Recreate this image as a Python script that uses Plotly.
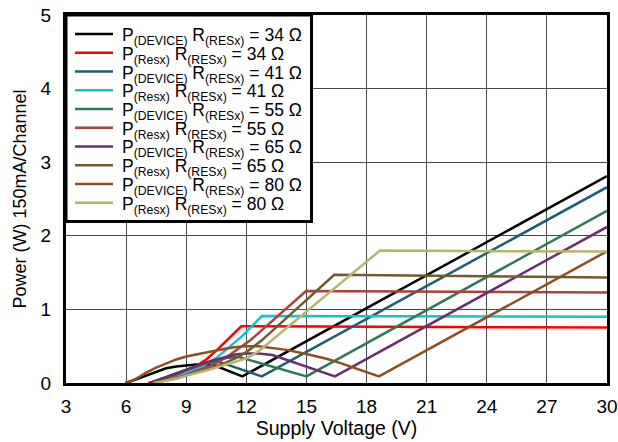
import plotly.graph_objects as go

# ---------------- data ----------------
labels = [
    "P<sub>(DEVICE)</sub> R<sub>(RESx)</sub> = 34 Ω",
    "P<sub>(Resx)</sub> R<sub>(RESx)</sub> = 34 Ω",
    "P<sub>(DEVICE)</sub> R<sub>(RESx)</sub> = 41 Ω",
    "P<sub>(Resx)</sub> R<sub>(RESx)</sub> = 41 Ω",
    "P<sub>(DEVICE)</sub> R<sub>(RESx)</sub> = 55 Ω",
    "P<sub>(Resx)</sub> R<sub>(RESx)</sub> = 55 Ω",
    "P<sub>(DEVICE)</sub> R<sub>(RESx)</sub> = 65 Ω",
    "P<sub>(Resx)</sub> R<sub>(RESx)</sub> = 65 Ω",
    "P<sub>(DEVICE)</sub> R<sub>(RESx)</sub> = 80 Ω",
    "P<sub>(Resx)</sub> R<sub>(RESx)</sub> = 80 Ω",
]

dev34_v = [6.0, 6.5, 7.0, 7.5, 8.0, 8.5, 9.0, 9.5, 10.0, 10.4, 11.8, 30]
dev34_p = [0, 0.05, 0.11, 0.16, 0.20, 0.225, 0.24, 0.25, 0.25, 0.24, 0.09, 2.81]

res34_v = [7.1, 7.5, 8.0, 8.5, 9.0, 9.5, 10.0, 10.5, 11.75, 30]
res34_p = [0, 0.02, 0.05, 0.10, 0.16, 0.23, 0.32, 0.44, 0.77, 0.755]

dev41_v = [7.2, 7.6, 8.0, 8.5, 9.0, 9.5, 10.0, 10.6, 12.77, 30]
dev41_p = [0, 0.04, 0.08, 0.14, 0.19, 0.23, 0.27, 0.29, 0.09, 2.66]

res41_v = [7.2, 7.6, 8.0, 8.5, 9.0, 9.5, 10.0, 10.5, 10.85, 11.8, 12.77, 30]
res41_p = [0, 0.02, 0.045, 0.08, 0.13, 0.19, 0.26, 0.34, 0.42, 0.64, 0.91, 0.90]

dev55_v = [7.2, 7.6, 8.0, 8.5, 9.0, 9.5, 10.0, 10.5, 11.0, 11.6, 15.0, 30]
dev55_p = [0, 0.04, 0.08, 0.13, 0.18, 0.23, 0.27, 0.31, 0.34, 0.355, 0.09, 2.34]

res55_v = [7.2, 7.6, 8.0, 8.5, 9.0, 9.5, 10.0, 10.5, 11.0, 11.5, 12.2, 14.98, 30]
res55_p = [0, 0.02, 0.04, 0.07, 0.11, 0.16, 0.21, 0.27, 0.35, 0.45, 0.58, 1.25, 1.23]

dev65_v = [7.2, 7.6, 8.0, 8.5, 9.0, 9.5, 10.0, 10.5, 11.0, 11.5, 12.0, 12.6, 13.3, 16.42, 30]
dev65_p = [0, 0.04, 0.08, 0.13, 0.19, 0.24, 0.28, 0.32, 0.36, 0.39, 0.40, 0.40, 0.38, 0.09, 2.12]

res65_v = [7.3, 7.7, 8.0, 8.5, 9.0, 9.5, 10.0, 10.5, 11.0, 11.5, 12.0, 12.77, 16.39, 30]
res65_p = [0, 0.02, 0.035, 0.06, 0.10, 0.14, 0.18, 0.23, 0.28, 0.34, 0.42, 0.58, 1.47, 1.435]

dev80_v = [5.95, 6.3, 6.7, 7.0, 7.5, 8.0, 8.5, 9.0, 9.5, 10.0, 10.5, 11.0, 11.5, 12.0,
           12.6, 13.3, 14.0, 15.0, 16.0, 16.7, 18.62, 30]
dev80_p = [0, 0.03, 0.09, 0.14, 0.21, 0.27, 0.32, 0.36, 0.39, 0.42, 0.45, 0.47, 0.49, 0.50,
           0.50, 0.475, 0.45, 0.395, 0.33, 0.27, 0.09, 1.79]

res80_v = [7.4, 8.0, 8.5, 9.0, 9.5, 10.0, 10.5, 11.0, 11.5, 12.0, 12.6, 13.0, 18.67, 30]
res80_p = [0, 0.03, 0.06, 0.10, 0.13, 0.17, 0.21, 0.25, 0.29, 0.335, 0.43, 0.52, 1.80, 1.785]

series_v = [dev34_v, res34_v, dev41_v, res41_v, dev55_v, res55_v, dev65_v, res65_v, dev80_v, res80_v]
series_p = [dev34_p, res34_p, dev41_p, res41_p, dev55_p, res55_p, dev65_p, res65_p, dev80_p, res80_p]
colors = ["#000000", "#FF0000", "#1D5E73", "#16C1D1", "#2E7A55",
          "#A8423F", "#6B2D6B", "#735A2C", "#8C4F20", "#B8B46B"]

x_ticks = [3, 6, 9, 12, 15, 18, 21, 24, 27, 30]
y_ticks = [0, 1, 2, 3, 4, 5]

FONT = "Arial, 'Liberation Sans', sans-serif"

fig = go.Figure()
for v, p, c, name in zip(series_v, series_p, colors, labels):
    fig.add_trace(go.Scatter(x=v, y=p, mode="lines", name=name,
                             line=dict(color=c, width=2.5), showlegend=False))

# plot area pixel geometry (for placing the hand-made legend)
L, R, T, B = 66, 607, 15, 383
W, H = R - L, B - T

def px(x):
    return (x - L) / W

def py(y):
    return (B - y) / H

shapes = [dict(type="rect", xref="paper", yref="paper",
               x0=px(L), x1=px(311.5), y0=py(221.5), y1=py(T),
               fillcolor="white", line=dict(color="black", width=3), layer="above")]
annotations = []
row0, step = 34.0, 18.75
for i, (c, name) in enumerate(zip(colors, labels)):
    yy = row0 + i * step
    shapes.append(dict(type="line", xref="paper", yref="paper",
                       x0=px(75), x1=px(113), y0=py(yy), y1=py(yy),
                       line=dict(color=c, width=2.5), layer="above"))
    annotations.append(dict(xref="paper", yref="paper", x=px(120), y=py(yy + 2.5),
                            xanchor="left", yanchor="middle", showarrow=False,
                            text=name, font=dict(family=FONT, size=17.5, color="black")))

fig.update_layout(
    width=618, height=442,
    margin=dict(l=L, r=618 - R, t=T, b=442 - B, pad=0, autoexpand=False),
    paper_bgcolor="white", plot_bgcolor="white",
    font=dict(family=FONT, size=19, color="black"),
    shapes=shapes, annotations=annotations,
    showlegend=False,
)
fig.update_xaxes(range=[3, 30], tickvals=x_ticks, ticktext=[str(t) for t in x_ticks],
                 tickfont=dict(size=19),
                 showgrid=True, gridcolor="#4a4a4a", gridwidth=1.2,
                 showline=True, linecolor="black", linewidth=3, mirror=True,
                 ticks="outside", ticklen=4, tickcolor="rgba(0,0,0,0)",
                 zeroline=False, automargin=False,
                 title=dict(text="Supply Voltage (V)", font=dict(size=19.5), standoff=4))
fig.update_yaxes(range=[0, 5], tickvals=y_ticks, ticktext=[str(t) for t in y_ticks],
                 tickfont=dict(size=19),
                 showgrid=True, gridcolor="#4a4a4a", gridwidth=1.2,
                 showline=True, linecolor="black", linewidth=3, mirror=True,
                 ticks="outside", ticklen=8, tickcolor="rgba(0,0,0,0)",
                 zeroline=False, automargin=False,
                 title=dict(text="Power (W) 150mA/Channel", font=dict(size=18), standoff=10))

fig.write_html("out.html", config={"displayModeBar": False},
               post_script="document.body.style.margin='0';document.body.style.overflow='hidden';")
